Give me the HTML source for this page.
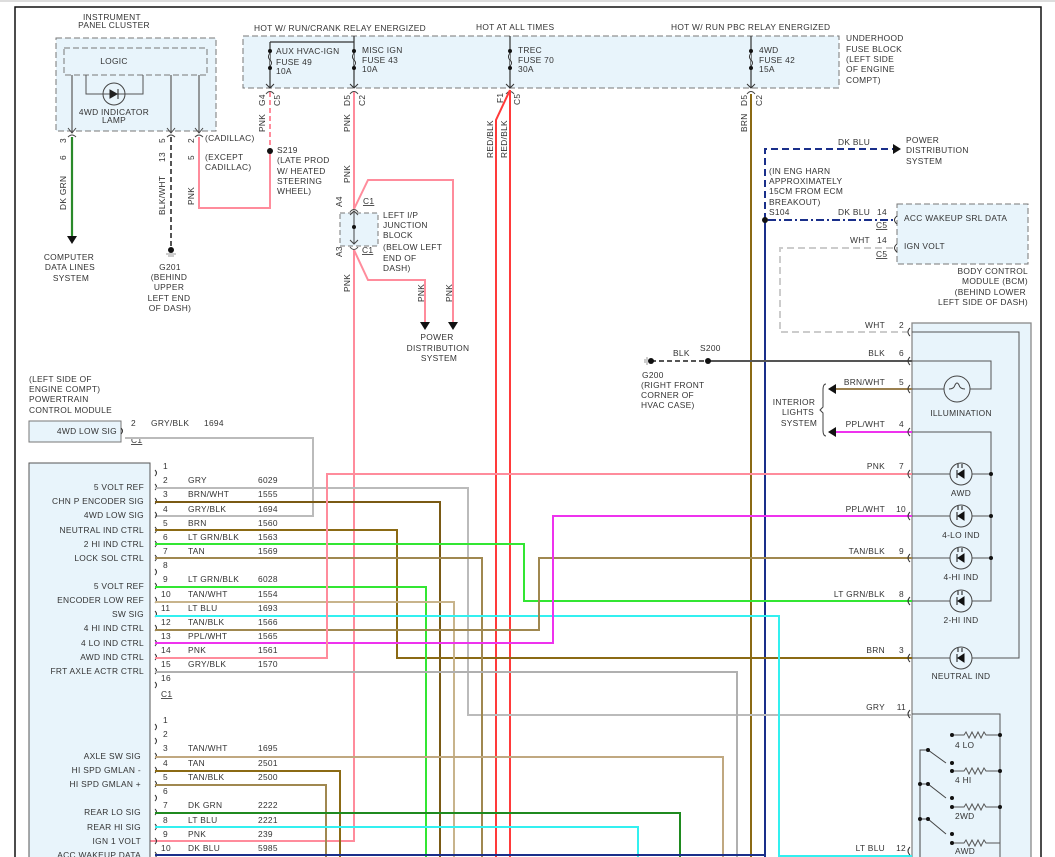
<!DOCTYPE html>
<html><head><meta charset="utf-8"><style>
body{margin:0;background:#fff;width:1055px;height:857px;overflow:hidden}
svg{display:block}
text{font-family:"Liberation Sans",sans-serif;font-size:8.4px;fill:#333;letter-spacing:0.3px}
</style></head><body>
<svg width="1055" height="857" viewBox="0 0 1055 857">
<rect x="0" y="0" width="1055" height="2" fill="#ddd"/>
<path d="M15 857V7H1041V857" fill="none" stroke="#111" stroke-width="1.5"/>

<!-- Instrument panel cluster -->
<text x="112" y="20" text-anchor="middle">INSTRUMENT</text>
<text x="114" y="28" text-anchor="middle">PANEL CLUSTER</text>
<rect x="56" y="38" width="160" height="93" fill="#e8f4fb" stroke="#777" stroke-dasharray="6,3"/>
<rect x="64" y="48" width="143" height="27" fill="#e8f4fb" stroke="#777" stroke-dasharray="6,3"/>
<text x="114" y="64" text-anchor="middle">LOGIC</text>
<path d="M72 75V133M171 75V133M199 75V133" stroke="#666" stroke-width="1.3"/>
<path d="M86 75V94H143V75" fill="none" stroke="#555"/>
<circle cx="114" cy="94" r="11" fill="none" stroke="#444"/>
<path d="M110 90L117 94L110 98Z M118 89V99" fill="#222" stroke="#222"/>
<text x="114" y="115" text-anchor="middle">4WD INDICATOR</text>
<text x="114" y="123" text-anchor="middle">LAMP</text>
<path d="M68 128L72 133L76 128M167 128L171 133L175 128M195 128L199 133L203 128" fill="none" stroke="#444"/>
<path d="M68 137Q72 133 76 137M167 137Q171 133 175 137M195 137Q199 133 203 137" fill="none" stroke="#444"/>
<path d="M72 137V236" stroke="#2a8a2a" stroke-width="2.2"/>
<path d="M67 236H77L72 244Z" fill="#111"/>
<text x="69" y="260" text-anchor="middle">COMPUTER</text>
<text x="70" y="270" text-anchor="middle">DATA LINES</text>
<text x="71" y="281" text-anchor="middle">SYSTEM</text>
<path d="M171 137V247" stroke="#555" stroke-width="2" stroke-dasharray="5,3"/>
<circle cx="171" cy="250" r="3" fill="#111"/><path d="M166 254H176M168 256H174" stroke="#999"/>
<text x="170" y="270" text-anchor="middle">G201</text>
<text x="169" y="280" text-anchor="middle">(BEHIND</text>
<text x="169" y="290" text-anchor="middle">UPPER</text>
<text x="169" y="301" text-anchor="middle">LEFT END</text>
<text x="170" y="311" text-anchor="middle">OF DASH)</text>
<g transform="rotate(-90)">
<text x="-143" y="66">3</text><text x="-160" y="66">6</text>
<text x="-210" y="66">DK GRN</text>
<text x="-143" y="165">5</text><text x="-162" y="165">13</text>
<text x="-215" y="165">BLK/WHT</text>
<text x="-143" y="194">2</text><text x="-160" y="194">5</text>
<text x="-205" y="194">PNK</text>
</g>
<text x="205" y="141">(CADILLAC)</text>
<text x="205" y="160">(EXCEPT</text>
<text x="205" y="170">CADILLAC)</text>
<path d="M199 137V208H270V151" fill="none" stroke="#ff8c9c" stroke-width="2"/>
<path d="M270 92V151" stroke="#ff8c9c" stroke-width="2" stroke-dasharray="5,3"/>
<circle cx="270" cy="151" r="3" fill="#111"/>
<text x="277" y="153">S219</text>
<text x="277" y="163">(LATE PROD</text>
<text x="277" y="174">W/ HEATED</text>
<text x="277" y="184">STEERING</text>
<text x="277" y="194">WHEEL)</text>

<!-- Fuse block -->
<text x="254" y="31">HOT W/ RUN/CRANK RELAY ENERGIZED</text>
<text x="476" y="30">HOT AT ALL TIMES</text>
<text x="671" y="30">HOT W/ RUN PBC RELAY ENERGIZED</text>
<rect x="243" y="36" width="596" height="52" fill="#e8f4fb" stroke="#777" stroke-dasharray="6,3"/>
<path d="M270 42H354M270 42V88M354 36V88M510 36V88M751 36V88" fill="none" stroke="#333" stroke-width="1.2"/>
<g fill="#111">
<circle cx="270" cy="51" r="2"/><circle cx="270" cy="68" r="2"/>
<circle cx="354" cy="51" r="2"/><circle cx="354" cy="68" r="2"/>
<circle cx="510" cy="51" r="2"/><circle cx="510" cy="68" r="2"/>
<circle cx="751" cy="51" r="2"/><circle cx="751" cy="68" r="2"/>
</g>
<g fill="#e8f4fb" stroke="#333">
<path d="M270 53Q267 57 270 60Q273 63 270 66"/><path d="M354 53Q351 57 354 60Q357 63 354 66"/>
<path d="M510 53Q507 57 510 60Q513 63 510 66"/><path d="M751 53Q748 57 751 60Q754 63 751 66"/>
</g>
<text x="276" y="54">AUX HVAC-IGN</text><text x="276" y="65">FUSE 49</text><text x="276" y="74">10A</text>
<text x="362" y="53">MISC IGN</text><text x="362" y="63">FUSE 43</text><text x="362" y="72">10A</text>
<text x="518" y="53">TREC</text><text x="518" y="63">FUSE 70</text><text x="518" y="72">30A</text>
<text x="759" y="53">4WD</text><text x="759" y="63">FUSE 42</text><text x="759" y="72">15A</text>
<text x="846" y="41">UNDERHOOD</text><text x="846" y="52">FUSE BLOCK</text><text x="846" y="62">(LEFT SIDE</text><text x="846" y="72">OF ENGINE</text><text x="846" y="83">COMPT)</text>
<path d="M266 84L270 88L274 84M350 84L354 88L358 84M506 84L510 88L514 84M747 84L751 88L755 84" fill="none" stroke="#333"/>
<path d="M266 94Q270 89 274 94M350 94Q354 89 358 94M506 94Q510 89 514 94M747 94Q751 89 755 94" fill="none" stroke="#444"/>
<g transform="rotate(-90)">
<text x="-106" y="265">G4</text><text x="-106" y="280">C5</text>
<text x="-132" y="265">PNK</text>
<text x="-106" y="350">D5</text><text x="-106" y="365">C2</text>
<text x="-132" y="350">PNK</text><text x="-183" y="350">PNK</text><text x="-292" y="350">PNK</text>
<text x="-103" y="503">F1</text><text x="-105" y="520">C5</text>
<text x="-158" y="493">RED/BLK</text><text x="-158" y="507">RED/BLK</text>
<text x="-106" y="747">D5</text><text x="-106" y="762">C2</text>
<text x="-132" y="747">BRN</text>
<text x="-302" y="424">PNK</text><text x="-302" y="452">PNK</text>
</g>
<!-- pink main -->
<path d="M354 92V209M354 250V841H150" fill="none" stroke="#ff8c9c" stroke-width="2"/>
<rect x="340" y="213" width="38" height="33" fill="#e8f4fb" stroke="#777" stroke-dasharray="5,3"/>
<path d="M354 211V244M350 215L354 211L358 215M350 240L354 244L358 240" fill="none" stroke="#444"/>
<circle cx="354" cy="227" r="2" fill="#111"/>
<path d="M350 212Q354 207 358 212M350 247Q354 252 358 247" fill="none" stroke="#444"/>
<text x="342" y="207" transform="rotate(-90 342 207)">A4</text>
<text x="342" y="257" transform="rotate(-90 342 257)">A3</text>
<text x="363" y="204" text-decoration="underline">C1</text>
<text x="362" y="253" text-decoration="underline">C1</text>
<text x="383" y="218">LEFT I/P</text><text x="383" y="228">JUNCTION</text><text x="383" y="238">BLOCK</text>
<text x="383" y="250">(BELOW LEFT</text><text x="383" y="261">END OF</text><text x="383" y="271">DASH)</text>
<path d="M354 209L368 180H453V322M354 250L368 280H425V322" fill="none" stroke="#ff8c9c" stroke-width="2"/>
<path d="M420 322H430L425 330ZM448 322H458L453 330Z" fill="#111"/>
<text x="437" y="340" text-anchor="middle">POWER</text>
<text x="438" y="351" text-anchor="middle">DISTRIBUTION</text>
<text x="439" y="361" text-anchor="middle">SYSTEM</text>
<!-- red -->
<path d="M510 90V857M510 90L496 120V857" fill="none" stroke="#ff3a3a" stroke-width="2"/>
<!-- brown 751 -->
<path d="M751 94V857" stroke="#8b6a14" stroke-width="2"/>
<!-- dk blu -->
<path d="M765 220V857" stroke="#1a2f8a" stroke-width="2"/>
<path d="M765 220V149H893" fill="none" stroke="#1a2f8a" stroke-width="2" stroke-dasharray="7,4"/>
<path d="M893 144L901 149L893 154Z" fill="#111"/>
<text x="838" y="145">DK BLU</text>
<text x="906" y="143">POWER</text><text x="906" y="153">DISTRIBUTION</text><text x="906" y="164">SYSTEM</text>
<text x="769" y="174">(IN ENG HARN</text><text x="769" y="184">APPROXIMATELY</text><text x="769" y="194">15CM FROM ECM</text><text x="769" y="205">BREAKOUT)</text><text x="769" y="215">S104</text>
<circle cx="765" cy="220" r="3" fill="#111"/>
<path d="M768 220H893" stroke="#1a2f8a" stroke-width="2" stroke-dasharray="8,3,2,3"/>
<text x="838" y="215">DK BLU</text><text x="877" y="215">14</text>
<text x="876" y="228" text-decoration="underline">C5</text>
<text x="850" y="243">WHT</text><text x="877" y="243">14</text>
<text x="876" y="257" text-decoration="underline">C5</text>
<path d="M893 248H780V332H908" fill="none" stroke="#ccc" stroke-width="2" stroke-dasharray="7,4"/>
<rect x="897" y="204" width="131" height="60" fill="#e8f4fb" stroke="#777" stroke-dasharray="6,3"/>
<path d="M897 216Q892 220 897 224M897 244Q892 248 897 252" fill="none" stroke="#333"/>
<text x="904" y="221">ACC WAKEUP SRL DATA</text>
<text x="904" y="249">IGN VOLT</text>
<text x="1028" y="274" text-anchor="end">BODY CONTROL</text><text x="1028" y="284" text-anchor="end">MODULE (BCM)</text><text x="1026" y="295" text-anchor="end">(BEHIND LOWER</text><text x="1028" y="305" text-anchor="end">LEFT SIDE OF DASH)</text>

<!-- right module -->
<rect x="912" y="323" width="119" height="540" fill="#e8f4fb" stroke="#888" stroke-width="1.3"/>
<path d="M912 332H1019V658H912M912 361H991V389H912M912 432H991V601H912M912 474H991M912 516H991M912 558H991" fill="none" stroke="#555"/>
<g fill="#111"><circle cx="991" cy="474" r="2"/><circle cx="991" cy="516" r="2"/><circle cx="991" cy="558" r="2"/></g>
<circle cx="957" cy="389" r="13" fill="#e8f4fb" stroke="#444"/>
<path d="M949 389Q954 389 955 385Q957 381 959 385Q960 389 965 389" fill="none" stroke="#444"/>
<text x="961" y="416" text-anchor="middle">ILLUMINATION</text>
<g fill="#e8f4fb" stroke="#444">
<circle cx="961" cy="474" r="11"/><circle cx="961" cy="516" r="11"/><circle cx="961" cy="558" r="11"/><circle cx="961" cy="601" r="11"/><circle cx="961" cy="658" r="11"/>
</g>
<g fill="#111" stroke="#111">
<path d="M964 470L958 474L964 478Z M957 470V478 M958 464V468M962 464V468"/>
<path d="M964 512L958 516L964 520Z M957 512V520 M958 506V510M962 506V510"/>
<path d="M964 554L958 558L964 562Z M957 554V562 M958 548V552M962 548V552"/>
<path d="M964 597L958 601L964 605Z M957 597V605 M958 591V595M962 591V595"/>
<path d="M964 654L958 658L964 662Z M957 654V662 M958 648V652M962 648V652"/>
</g>
<text x="961" y="496" text-anchor="middle">AWD</text>
<text x="961" y="538" text-anchor="middle">4-LO IND</text>
<text x="961" y="580" text-anchor="middle">4-HI IND</text>
<text x="961" y="623" text-anchor="middle">2-HI IND</text>
<text x="961" y="679" text-anchor="middle">NEUTRAL IND</text>
<!-- switches -->
<path d="M912 714H1000V857" fill="none" stroke="#555"/>
<path d="M952 735H964l2-3 3 6 3-6 3 6 3-6 3 6 3-6 2 3H1000M952 771H964l2-3 3 6 3-6 3 6 3-6 3 6 3-6 2 3H1000M952 807H964l2-3 3 6 3-6 3 6 3-6 3 6 3-6 2 3H1000M952 843H964l2-3 3 6 3-6 3 6 3-6 3 6 3-6 2 3H1000" fill="none" stroke="#555"/>
<path d="M920 857V750H928L946 763M920 784H928L946 798M920 819H928L946 834" fill="none" stroke="#444"/>
<g fill="#111"><circle cx="952" cy="735" r="2"/><circle cx="1000" cy="735" r="2"/><circle cx="952" cy="771" r="2"/><circle cx="1000" cy="771" r="2"/><circle cx="952" cy="807" r="2"/><circle cx="1000" cy="807" r="2"/><circle cx="952" cy="843" r="2"/><circle cx="928" cy="750" r="2"/><circle cx="920" cy="784" r="2"/><circle cx="928" cy="784" r="2"/><circle cx="920" cy="819" r="2"/><circle cx="928" cy="819" r="2"/><circle cx="952" cy="763" r="2"/><circle cx="952" cy="798" r="2"/><circle cx="952" cy="834" r="2"/></g>
<text x="955" y="748">4 LO</text><text x="955" y="783">4 HI</text><text x="955" y="819">2WD</text><text x="955" y="854">AWD</text>
<!-- right pin labels -->
<g text-anchor="end">
<text x="885" y="328">WHT</text><text x="904" y="328">2</text>
<text x="885" y="356">BLK</text><text x="904" y="356">6</text>
<text x="885" y="385">BRN/WHT</text><text x="904" y="385">5</text>
<text x="885" y="427">PPL/WHT</text><text x="904" y="427">4</text>
<text x="885" y="469">PNK</text><text x="904" y="469">7</text>
<text x="885" y="512">PPL/WHT</text><text x="906" y="512">10</text>
<text x="885" y="554">TAN/BLK</text><text x="904" y="554">9</text>
<text x="885" y="597">LT GRN/BLK</text><text x="904" y="597">8</text>
<text x="885" y="653">BRN</text><text x="904" y="653">3</text>
<text x="885" y="710">GRY</text><text x="906" y="710">11</text>
<text x="885" y="851">LT BLU</text><text x="906" y="851">12</text>
</g>
<!-- G200/S200 -->
<path d="M651 361H708" stroke="#555" stroke-width="2" stroke-dasharray="5,3"/>
<path d="M708 361H912" stroke="#555" stroke-width="2"/>
<circle cx="651" cy="361" r="3" fill="#111"/><path d="M647 357V365M645 359V363" stroke="#999"/>
<circle cx="708" cy="361" r="3" fill="#111"/>
<text x="673" y="356">BLK</text><text x="700" y="351">S200</text>
<text x="642" y="378">G200</text><text x="641" y="388">(RIGHT FRONT</text><text x="641" y="398">CORNER OF</text><text x="641" y="408">HVAC CASE)</text>
<path d="M836 389H912" stroke="#9a8050" stroke-width="2"/>
<path d="M836 432H912" stroke="#ee33ee" stroke-width="2"/>
<path d="M836 384L828 389L836 394ZM836 427L828 432L836 437Z" fill="#111"/>
<path d="M826 384Q823 384 823 390V407L820 410L823 413V430Q823 436 826 436" fill="none" stroke="#444"/>
<text x="794" y="405" text-anchor="middle">INTERIOR</text><text x="798" y="415" text-anchor="middle">LIGHTS</text><text x="799" y="426" text-anchor="middle">SYSTEM</text>

<!-- PCM -->
<text x="29" y="382">(LEFT SIDE OF</text><text x="29" y="392">ENGINE COMPT)</text><text x="29" y="402">POWERTRAIN</text><text x="29" y="413">CONTROL MODULE</text>
<rect x="29" y="421" width="92" height="21" fill="#e8f4fb" stroke="#777"/>
<text x="117" y="434" text-anchor="end">4WD LOW SIG</text>
<text x="131" y="426">2</text><text x="151" y="426">GRY/BLK</text><text x="204" y="426">1694</text>
<text x="131" y="443" text-decoration="underline">C1</text>
<path d="M125 438H313V516H155" fill="none" stroke="#bbb" stroke-width="2"/>
<rect x="29" y="463" width="121" height="400" fill="#e8f4fb" stroke="#555"/>

<g text-anchor="end">
<text x="144" y="490">5 VOLT REF</text><text x="144" y="504">CHN P ENCODER SIG</text><text x="144" y="518">4WD LOW SIG</text>
<text x="144" y="533">NEUTRAL IND CTRL</text><text x="144" y="547">2 HI IND CTRL</text><text x="144" y="561">LOCK SOL CTRL</text>
<text x="144" y="589">5 VOLT REF</text><text x="144" y="603">ENCODER LOW REF</text><text x="144" y="617">SW SIG</text>
<text x="144" y="631">4 HI IND CTRL</text><text x="144" y="646">4 LO IND CTRL</text><text x="144" y="660">AWD IND CTRL</text>
<text x="144" y="674">FRT AXLE ACTR CTRL</text>
<text x="141" y="759">AXLE SW SIG</text><text x="141" y="773">HI SPD GMLAN -</text><text x="141" y="787">HI SPD GMLAN +</text>
<text x="141" y="815">REAR LO SIG</text><text x="141" y="830">REAR HI SIG</text><text x="141" y="844">IGN 1 VOLT</text><text x="141" y="858">ACC WAKEUP DATA</text>
</g>
<g>
<text x="163" y="469">1</text>
<text x="163" y="483">2</text><text x="188" y="483">GRY</text><text x="258" y="483">6029</text>
<text x="163" y="497">3</text><text x="188" y="497">BRN/WHT</text><text x="258" y="497">1555</text>
<text x="163" y="512">4</text><text x="188" y="512">GRY/BLK</text><text x="258" y="512">1694</text>
<text x="163" y="526">5</text><text x="188" y="526">BRN</text><text x="258" y="526">1560</text>
<text x="163" y="540">6</text><text x="188" y="540">LT GRN/BLK</text><text x="258" y="540">1563</text>
<text x="163" y="554">7</text><text x="188" y="554">TAN</text><text x="258" y="554">1569</text>
<text x="163" y="568">8</text>
<text x="163" y="582">9</text><text x="188" y="582">LT GRN/BLK</text><text x="258" y="582">6028</text>
<text x="161" y="597">10</text><text x="188" y="597">TAN/WHT</text><text x="258" y="597">1554</text>
<text x="161" y="611">11</text><text x="188" y="611">LT BLU</text><text x="258" y="611">1693</text>
<text x="161" y="625">12</text><text x="188" y="625">TAN/BLK</text><text x="258" y="625">1566</text>
<text x="161" y="639">13</text><text x="188" y="639">PPL/WHT</text><text x="258" y="639">1565</text>
<text x="161" y="653">14</text><text x="188" y="653">PNK</text><text x="258" y="653">1561</text>
<text x="161" y="667">15</text><text x="188" y="667">GRY/BLK</text><text x="258" y="667">1570</text>
<text x="161" y="681">16</text>
<text x="161" y="697" text-decoration="underline">C1</text>
<text x="163" y="723">1</text><text x="163" y="737">2</text>
<text x="163" y="751">3</text><text x="188" y="751">TAN/WHT</text><text x="258" y="751">1695</text>
<text x="163" y="766">4</text><text x="188" y="766">TAN</text><text x="258" y="766">2501</text>
<text x="163" y="780">5</text><text x="188" y="780">TAN/BLK</text><text x="258" y="780">2500</text>
<text x="163" y="794">6</text>
<text x="163" y="808">7</text><text x="188" y="808">DK GRN</text><text x="258" y="808">2222</text>
<text x="163" y="823">8</text><text x="188" y="823">LT BLU</text><text x="258" y="823">2221</text>
<text x="163" y="837">9</text><text x="188" y="837">PNK</text><text x="258" y="837">239</text>
<text x="161" y="851">10</text><text x="188" y="851">DK BLU</text><text x="258" y="851">5985</text>
</g>
<path d="M155 470q3 3 0 6M155 484q3 3 0 6M155 498q3 3 0 6M155 512q3 3 0 6M155 527q3 3 0 6M155 541q3 3 0 6M155 555q3 3 0 6M155 569q3 3 0 6M155 583q3 3 0 6M155 597q3 3 0 6M155 611q3 3 0 6M155 625q3 3 0 6M155 640q3 3 0 6M155 654q3 3 0 6M155 668q3 3 0 6M155 682q3 3 0 6M155 724q3 3 0 6M155 738q3 3 0 6M155 753q3 3 0 6M155 767q3 3 0 6M155 781q3 3 0 6M155 795q3 3 0 6M155 809q3 3 0 6M155 824q3 3 0 6M155 838q3 3 0 6M155 852q3 3 0 6M121 428q3 3 0 6" fill="none" stroke="#333"/>
<!-- PCM wires -->
<g fill="none" stroke-width="2">
<path d="M155 488H468V715H912" stroke="#bbb"/>
<path d="M155 502H440V857" stroke="#7a5a14"/>
<path d="M155 530H397V658H912" stroke="#8b6a14"/>
<path d="M155 544H524V601H912" stroke="#33e633"/>
<path d="M155 558H482V857" stroke="#a08850"/>
<path d="M155 587H426V857" stroke="#33e633"/>
<path d="M155 602H454V857" stroke="#c8b48c"/>
<path d="M155 616H779V857" stroke="#33f0f0"/>
<path d="M155 630H539V558H912" stroke="#a08850"/>
<path d="M155 643H553V516H912" stroke="#ee33ee"/>
<path d="M155 658H327V474H912" stroke="#ff8c9c"/>
<path d="M155 672H737V857" stroke="#b0b0b0"/>
<path d="M155 757H723V857" stroke="#c0a880"/>
<path d="M155 771H340V857" stroke="#8b6a14"/>
<path d="M155 785H326V857" stroke="#a08850"/>
<path d="M155 813H680V857" stroke="#1f8a1f"/>
<path d="M155 827H638V857" stroke="#33f0f0"/>
<path d="M155 855H765" stroke="#1a2f8a"/>
<path d="M779 856H912" stroke="#33f0f0"/>
</g>
<!-- right side connectors -->
<path d="M910 328q-4 4 0 8M910 357q-4 4 0 8M910 385q-4 4 0 8M910 428q-4 4 0 8M910 470q-4 4 0 8M910 512q-4 4 0 8M910 554q-4 4 0 8M910 597q-4 4 0 8M910 654q-4 4 0 8M910 710q-4 4 0 8M910 847q-4 4 0 8" fill="none" stroke="#333"/>
</svg>
</body></html>
